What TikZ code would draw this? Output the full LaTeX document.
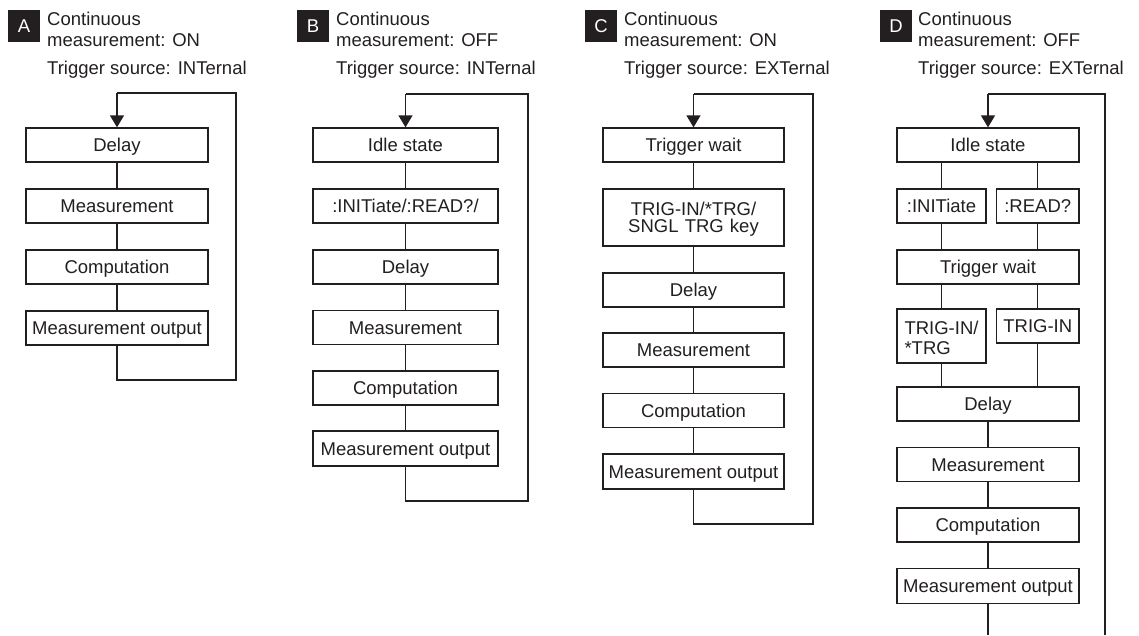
\documentclass[tikz,border=0pt]{standalone}
\usepackage{fontspec}
\setmainfont{Liberation Sans}
\usetikzlibrary{arrows.meta}
\definecolor{ink}{HTML}{231F20}
\tikzset{
  every node/.style={font=\fontsize{18.5}{20.5}\selectfont, text=ink},
  stepbox/.style={draw=ink, line width=1.3pt, fill=white, inner sep=0pt, minimum height=34pt, text height=13.2pt, text depth=0pt},
  wA/.style={minimum width=182pt},
  wB/.style={minimum width=185pt},
  wC/.style={minimum width=181pt},
  wD/.style={minimum width=182pt},
  tag/.style={fill=ink, text=white, inner sep=0pt, minimum width=32pt, minimum height=32pt, text height=13.2pt, text depth=0pt},
  head/.style={anchor=north west, align=left, inner sep=0pt},
  trig/.style={anchor=base west, inner sep=0pt},
  wire/.style={draw=ink, line width=1.3pt},
  loopin/.style={draw=ink, line width=1.3pt, -{Triangle[width=14pt,length=12pt]}},
}
\begin{document}
\begin{tikzpicture}[x=1pt, y=-1pt]
\useasboundingbox (0,0) rectangle (1139,635);

% ---------------- Panel A ----------------
\node[tag] (tA) at (24,26) {A};
\node[head] (hA) at (47,12.3) {Continuous\\measurement: ON};
\node[trig] (sA) at (47,74.5) {Trigger source: INTernal};
\node[stepbox,wA] (a1) at (117,145) {Delay};
\node[stepbox,wA] (a2) at (117,206) {Measurement};
\node[stepbox,wA] (a3) at (117,267) {Computation};
\node[stepbox,wA] (a4) at (117,328) {Measurement output};
\coordinate (aBL) at (117,380);
\coordinate (aBR) at (236,380);
\coordinate (aTR) at (236,93);
\coordinate (aTL) at (117,93);
\draw[wire] (a1) -- (a2);
\draw[wire] (a2) -- (a3);
\draw[wire] (a3) -- (a4);
\draw[wire] (a4.south) -- (aBL) -- (aBR) -- (aTR) -- (aTL);
\draw[loopin] (aTL) -- (a1.north);

% ---------------- Panel B ----------------
\node[tag] (tB) at (313,26) {B};
\node[head] (hB) at (336,12.3) {Continuous\\measurement: OFF};
\node[trig] (sB) at (336,74.5) {Trigger source: INTernal};
\node[stepbox,wB] (b1) at (405.5,145) {Idle state};
\node[stepbox,wB] (b2) at (405.5,206) {:INITiate/:READ?/};
\node[stepbox,wB] (b3) at (405.5,267) {Delay};
\node[stepbox,wB] (b4) at (405.5,327.5) {Measurement};
\node[stepbox,wB] (b5) at (405.5,388) {Computation};
\node[stepbox,wB,minimum height=35pt] (b6) at (405.5,448.5) {Measurement output};
\coordinate (bBL) at (405.5,501);
\coordinate (bBR) at (528,501);
\coordinate (bTR) at (528,94);
\coordinate (bTL) at (405.5,94);
\draw[wire] (b1) -- (b2);
\draw[wire] (b2) -- (b3);
\draw[wire] (b3) -- (b4);
\draw[wire] (b4) -- (b5);
\draw[wire] (b5) -- (b6);
\draw[wire] (b6.south) -- (bBL) -- (bBR) -- (bTR) -- (bTL);
\draw[loopin] (bTL) -- (b1.north);

% ---------------- Panel C ----------------
\node[tag] (tC) at (601,26) {C};
\node[head] (hC) at (624,12.3) {Continuous\\measurement: ON};
\node[trig] (sC) at (624,74.5) {Trigger source: EXTernal};
\node[stepbox,wC] (c1) at (693.5,145) {Trigger wait};
\node[stepbox,wC,minimum height=57pt,align=center,text width=170pt,text depth=17.5pt,font=\fontsize{18.5}{17.5}\selectfont] (c2) at (693.5,217.5) {TRIG-IN/*TRG/\\SNGL TRG key};
\node[stepbox,wC] (c3) at (693.5,290) {Delay};
\node[stepbox,wC] (c4) at (693.5,350) {Measurement};
\node[stepbox,wC] (c5) at (693.5,410.5) {Computation};
\node[stepbox,wC,minimum height=35pt] (c6) at (693.5,471.5) {Measurement output};
\coordinate (cBL) at (693.5,524);
\coordinate (cBR) at (813,524);
\coordinate (cTR) at (813,94);
\coordinate (cTL) at (693.5,94);
\draw[wire] (c1) -- (c2);
\draw[wire] (c2) -- (c3);
\draw[wire] (c3) -- (c4);
\draw[wire] (c4) -- (c5);
\draw[wire] (c5) -- (c6);
\draw[wire] (c6.south) -- (cBL) -- (cBR) -- (cTR) -- (cTL);
\draw[loopin] (cTL) -- (c1.north);

% ---------------- Panel D ----------------
\node[tag] (tD) at (896,26) {D};
\node[head] (hD) at (918,12.3) {Continuous\\measurement: OFF};
\node[trig] (sD) at (918,74.5) {Trigger source: EXTernal};
\node[stepbox,wD] (d1) at (988,145) {Idle state};
\node[stepbox,minimum width=89pt] (d2l) at (941.5,206) {:INITiate};
\node[stepbox,minimum width=82.5pt] (d2r) at (1037.75,206) {:READ?};
\node[stepbox,wD] (d3) at (988,267) {Trigger wait};
\node[stepbox,minimum width=89pt,minimum height=54pt,align=left,text width=74pt,text depth=17.2pt,font=\fontsize{18.5}{20}\selectfont] (d4l) at (941.5,336) {TRIG-IN/\\{}*TRG};
\node[stepbox,minimum width=82.5pt] (d4r) at (1037.75,326) {TRIG-IN};
\node[stepbox,wD] (d5) at (988,404) {Delay};
\node[stepbox,wD] (d6) at (988,464.5) {Measurement};
\node[stepbox,wD] (d7) at (988,525) {Computation};
\node[stepbox,wD,minimum height=35pt] (d8) at (988,586) {Measurement output};
\coordinate (dBL) at (988,635);
\coordinate (dBR) at (1105,635);
\coordinate (dTR) at (1105,94);
\coordinate (dTL) at (988,94);
\draw[wire] (d1.south -| d2l) -- (d2l.north);
\draw[wire] (d1.south -| d2r) -- (d2r.north);
\draw[wire] (d2l.south) -- (d3.north -| d2l);
\draw[wire] (d2r.south) -- (d3.north -| d2r);
\draw[wire] (d3.south -| d4l) -- (d4l.north);
\draw[wire] (d3.south -| d4r) -- (d4r.north);
\draw[wire] (d4l.south) -- (d5.north -| d4l);
\draw[wire] (d4r.south) -- (d5.north -| d4r);
\draw[wire] (d5) -- (d6);
\draw[wire] (d6) -- (d7);
\draw[wire] (d7) -- (d8);
\draw[wire] (d8.south) -- (dBL);
\draw[wire] (dBR) -- (dTR) -- (dTL);
\draw[loopin] (dTL) -- (d1.north);
\end{tikzpicture}
\end{document}
